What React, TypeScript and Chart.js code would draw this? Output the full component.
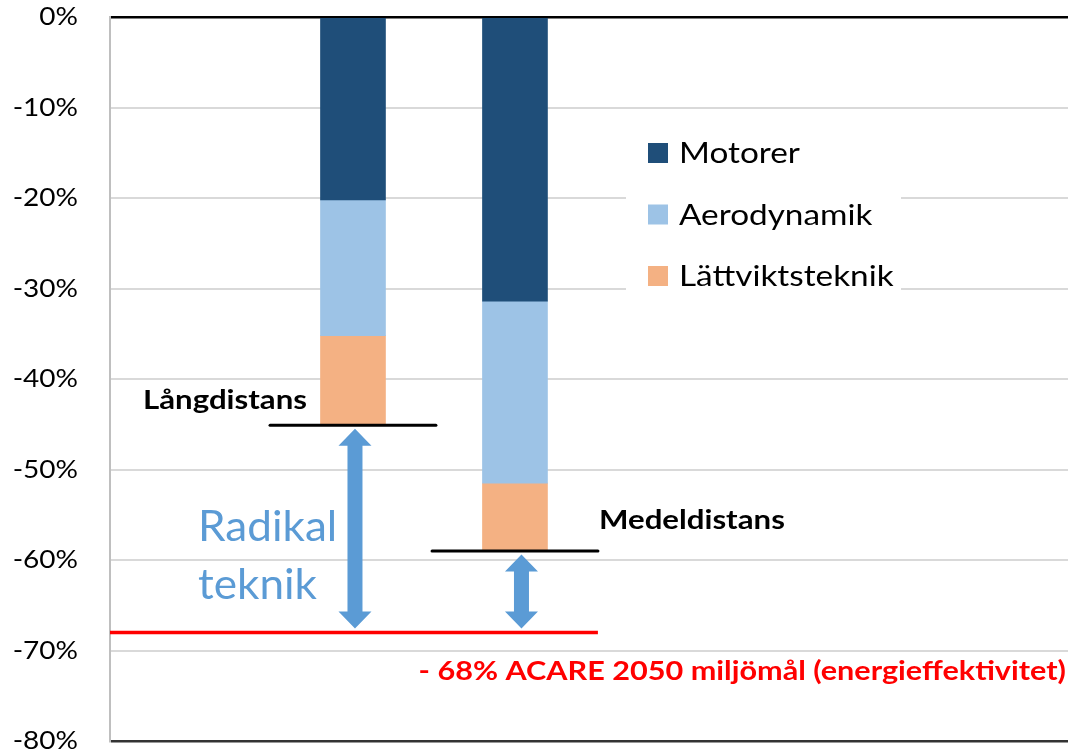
import React, { useEffect, useRef } from 'react';
import { Chart, registerables } from 'chart.js';

Chart.register(...registerables);

// ---- data ----
const categories = ['Långdistans', 'Medeldistans'];
const categoryX = [1, 2];
const motorer = [-20.2, -31.4];
const aerodynamik = [-15.0, -20.1];
const lattviktsteknik = [-9.8, -7.4];
const seriesLabels = ['Motorer', 'Aerodynamik', 'Lättviktsteknik'];
const seriesColors = ['#1F4E79', '#9DC3E6', '#F4B183'];
const yMin = -80;
const yMax = 0;
const yStep = 10;
const targetValue = -68;
const targetText = '- 68% ACARE 2050 miljömål (energieffektivitet)';
const radikalText = ['Radikal', 'teknik'];

const FONT = 'Lato, "Open Sans", sans-serif';
const SX = 1.15;

function stretchText(
  ctx: CanvasRenderingContext2D,
  text: string,
  x: number,
  y: number,
  font: string,
  color: string,
  align: CanvasTextAlign,
  baseline: CanvasTextBaseline,
  sx: number = SX
) {
  ctx.save();
  ctx.font = font;
  ctx.fillStyle = color;
  ctx.textAlign = align;
  ctx.textBaseline = baseline;
  ctx.translate(x, y);
  ctx.scale(sx, 1);
  ctx.fillText(text, 0, 0);
  ctx.restore();
}

function doubleArrow(ctx: CanvasRenderingContext2D, cx: number, top: number, bottom: number) {
  const hs = 7.5;
  const hw = 16.5;
  const hl = 17;
  ctx.beginPath();
  ctx.moveTo(cx, top);
  ctx.lineTo(cx + hw, top + hl);
  ctx.lineTo(cx + hs, top + hl);
  ctx.lineTo(cx + hs, bottom - hl);
  ctx.lineTo(cx + hw, bottom - hl);
  ctx.lineTo(cx, bottom);
  ctx.lineTo(cx - hw, bottom - hl);
  ctx.lineTo(cx - hs, bottom - hl);
  ctx.lineTo(cx - hs, top + hl);
  ctx.lineTo(cx - hw, top + hl);
  ctx.closePath();
  ctx.fill();
}

const overlayPlugin = {
  id: 'overlay',
  afterDraw(chart: any) {
    const { ctx, chartArea } = chart;
    const x = chart.scales.x;
    const y = chart.scales.y;
    const totals = categoryX.map((_, i) => motorer[i] + aerodynamik[i] + lattviktsteknik[i]);

    // y tick labels
    y.ticks.forEach((t: any) => {
      stretchText(ctx, `${t.value}%`, 78, y.getPixelForValue(t.value), `25px ${FONT}`, '#000', 'right', 'middle', 1.12);
    });

    // legend box
    ctx.save();
    ctx.fillStyle = '#fff';
    ctx.fillRect(626, 122, 275, 178);
    ctx.restore();
    seriesLabels.forEach((lab, i) => {
      const cy = 153 + i * 61.5;
      ctx.fillStyle = seriesColors[i];
      ctx.fillRect(648, cy - 10, 20, 20);
      stretchText(ctx, lab, 679, cy + 1, `28px ${FONT}`, '#000', 'left', 'middle', 1.19);
    });

    // level lines
    ctx.save();
    ctx.strokeStyle = '#000';
    ctx.lineWidth = 3;
    ctx.lineCap = 'round';
    totals.forEach((t, i) => {
      const py = y.getPixelForValue(t) + 1;
      ctx.beginPath();
      ctx.moveTo(x.getPixelForValue(categoryX[i] - 0.512), py);
      ctx.lineTo(x.getPixelForValue(categoryX[i] + 0.512), py);
      ctx.stroke();
    });

    // target red line
    const ry = y.getPixelForValue(targetValue);
    ctx.strokeStyle = '#FF0000';
    ctx.lineWidth = 3.5;
    ctx.lineCap = 'butt';
    ctx.beginPath();
    ctx.moveTo(chartArea.left, ry);
    ctx.lineTo(x.getPixelForValue(categoryX[1] + 0.512), ry);
    ctx.stroke();

    // arrows
    ctx.fillStyle = '#5B9BD5';
    const arrowOffsets = [2, 6.5];
    totals.forEach((t, i) => {
      const cx = x.getPixelForValue(categoryX[i]) + arrowOffsets[i];
      doubleArrow(ctx, cx, y.getPixelForValue(t) + 4.5, ry - 4);
    });
    ctx.restore();

    // labels
    const b0 = x.getPixelForValue(categoryX[0]);
    const b1 = x.getPixelForValue(categoryX[1]);
    stretchText(ctx, categories[0], b0 - 46, y.getPixelForValue(totals[0]) - 15, `bold 26px ${FONT}`, '#000', 'right', 'alphabetic', 1.2);
    stretchText(ctx, categories[1], b1 + 84, y.getPixelForValue(totals[1]) - 21, `bold 26px ${FONT}`, '#000', 'left', 'alphabetic', 1.2);

    // Radikal teknik
    stretchText(ctx, radikalText[0], chartArea.left + 88, 541, `42px ${FONT}`, '#5B9BD5', 'left', 'alphabetic', 1.05);
    stretchText(ctx, radikalText[1], chartArea.left + 88, 599, `42px ${FONT}`, '#5B9BD5', 'left', 'alphabetic', 1.05);

    // target text
    stretchText(ctx, targetText, 1066, ry + 48, `bold 26px ${FONT}`, '#FF0000', 'right', 'alphabetic', 1.177);
  },
};

export default function App() {
  const ref = useRef<HTMLCanvasElement | null>(null);

  useEffect(() => {
    document.body.style.margin = '0';
    if (!ref.current) return;
    const datasetValues = [motorer, aerodynamik, lattviktsteknik];
    const chart = new Chart(ref.current, {
      type: 'bar',
      data: {
        datasets: seriesLabels.map((label, si) => ({
          label,
          data: categoryX.map((cx, i) => ({ x: cx, y: datasetValues[si][i] })),
          backgroundColor: seriesColors[si],
          borderWidth: 0,
          barThickness: 65,
        })),
      },
      options: {
        animation: false,
        responsive: false,
        devicePixelRatio: 1,
        layout: { padding: { top: 17, bottom: 11, left: 0, right: 0 } },
        plugins: { legend: { display: false }, tooltip: { enabled: false } },
        scales: {
          x: {
            type: 'linear',
            min: -0.5,
            max: 5.414,
            offset: false,
            stacked: true,
            display: false,
          },
          y: {
            stacked: true,
            min: yMin,
            max: yMax,
            ticks: { stepSize: yStep, display: false },
            afterFit: (scale: any) => {
              scale.width = 110;
            },
            border: { display: true, color: '#BFBFBF', width: 2 },
            grid: {
              drawTicks: false,
              color: (c: any) => (c.tick && c.tick.value === 0 ? '#000' : c.tick && c.tick.value === yMin ? '#333' : '#D9D9D9'),
              lineWidth: (c: any) => (c.tick && (c.tick.value === 0 || c.tick.value === yMin) ? 2.5 : 2),
            },
          },
        },
      },
      plugins: [overlayPlugin],
    });
    return () => chart.destroy();
  }, []);

  return (
    <div style={{ width: 1068, height: 752, background: '#fff' }}>
      <canvas ref={ref} width={1068} height={752} style={{ display: 'block' }} />
    </div>
  );
}
